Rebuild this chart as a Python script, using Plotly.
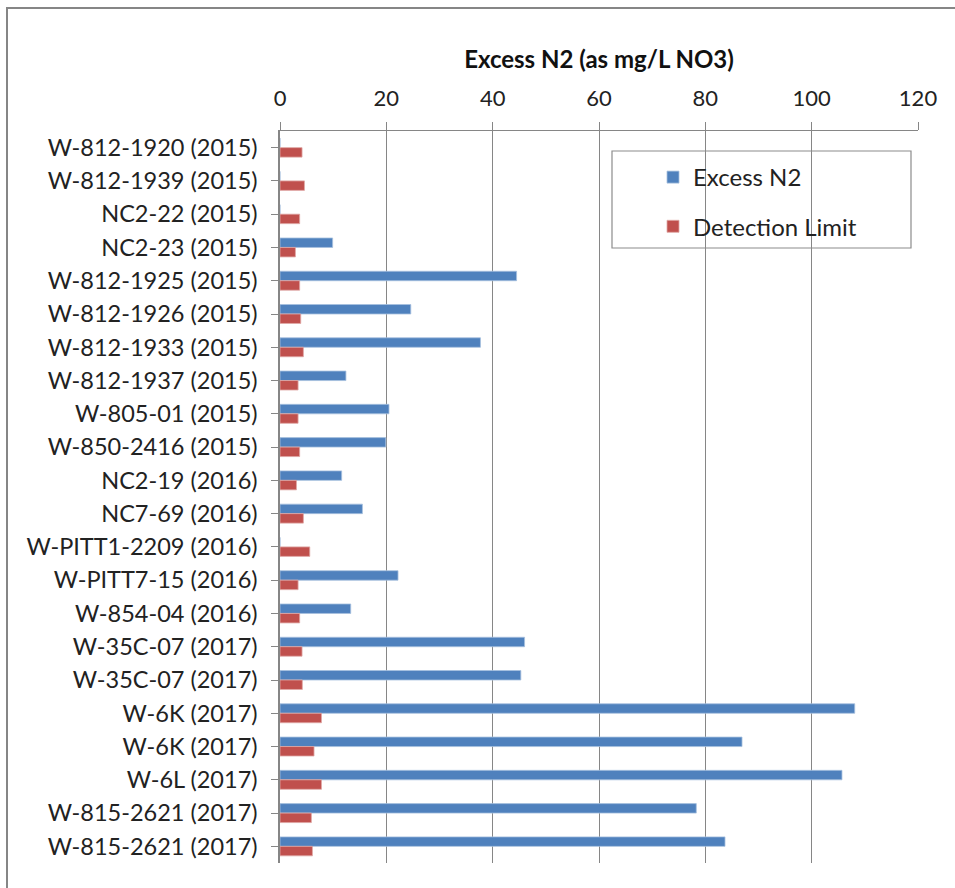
import plotly.graph_objects as go

# Wells (top to bottom) and measured values, mg/L as NO3
wells = [
    "W-812-1920 (2015)", "W-812-1939 (2015)", "NC2-22 (2015)", "NC2-23 (2015)",
    "W-812-1925 (2015)", "W-812-1926 (2015)", "W-812-1933 (2015)", "W-812-1937 (2015)",
    "W-805-01 (2015)", "W-850-2416 (2015)", "NC2-19 (2016)", "NC7-69 (2016)",
    "W-PITT1-2209 (2016)", "W-PITT7-15 (2016)", "W-854-04 (2016)", "W-35C-07 (2017)",
    "W-35C-07 (2017)", "W-6K (2017)", "W-6K (2017)", "W-6L (2017)",
    "W-815-2621 (2017)", "W-815-2621 (2017)",
]
excess_n2 = [0, 0, 0, 9.9, 44.5, 24.6, 37.7, 12.4, 20.5, 19.9, 11.6, 15.5,
             0, 22.2, 13.3, 46.0, 45.3, 108.1, 86.9, 105.7, 78.3, 83.7]
detection_limit = [4.15, 4.6, 3.7, 2.9, 3.7, 3.9, 4.4, 3.4, 3.4, 3.7, 3.1, 4.4,
                   5.6, 3.4, 3.7, 4.15, 4.2, 7.8, 6.4, 7.8, 5.9, 6.1]
x_ticks = [0, 20, 40, 60, 80, 100, 120]

# duplicate well names need unique category keys
row_ids = list(range(len(wells)))

FONT = "Lato, Calibri, sans-serif"
GRID = "#868686"
TEXT = "#222222"

fig = go.Figure()
fig.add_trace(go.Bar(
    y=row_ids, x=excess_n2, orientation="h", name="Excess N2",
    marker=dict(color="#4F81BD", line=dict(color="#A7C0DE", width=0.8)),
    legendgroup="a",
))
fig.add_trace(go.Bar(
    y=row_ids, x=detection_limit, orientation="h", name="Detection Limit",
    marker=dict(color="#C0504D", line=dict(color="#E0A8A6", width=0.8)),
    legendgroup="b",
))

fig.update_layout(
    width=955, height=888,
    margin=dict(l=280, r=37, t=131, b=25),
    paper_bgcolor="white", plot_bgcolor="white",
    barmode="group", bargap=0.43, bargroupgap=0,
    font=dict(family=FONT, size=23, color=TEXT),
    showlegend=True,
    legend=dict(
        x=(653 - 280) / 638, y=(863 - 155) / 732, xanchor="left", yanchor="top",
        bgcolor="rgba(0,0,0,0)", borderwidth=0, tracegroupgap=15,
        traceorder="grouped", font=dict(family=FONT, size=24, color=TEXT),
    ),
    xaxis=dict(
        side="top", range=[0, 120], tickvals=x_ticks, ticktext=[str(v) for v in x_ticks],
        showgrid=True, gridcolor=GRID, gridwidth=1,
        showline=True, linecolor=GRID, linewidth=1,
        ticks="outside", ticklen=8, tickcolor=GRID,
        tickfont=dict(family=FONT, size=22, color=TEXT),
        ticklabelstandoff=7,
        zeroline=False,
        title=dict(text="<b>Excess N2 (as mg/L NO3)</b>", standoff=8,
                   font=dict(family=FONT, size=24, color="#111111")),
    ),
    yaxis=dict(
        tickvals=row_ids, ticktext=wells, autorange="reversed",
        range=[-0.5, len(wells) - 0.5],
        showline=True, linecolor=GRID, linewidth=1.5,
        ticks="outside", ticklen=7, tickcolor=GRID, tickson="boundaries",
        showgrid=False, zeroline=False,
        tickfont=dict(family=FONT, size=23.5, color=TEXT),
        ticklabelstandoff=9,
    ),
    shapes=[
        # legend frame
        dict(type="rect", xref="paper", yref="paper",
             x0=(612 - 280) / 638, x1=(911 - 280) / 638,
             y0=(863 - 248) / 732, y1=(863 - 151) / 732,
             line=dict(color="#8C8C8C", width=1.2), fillcolor="rgba(0,0,0,0)"),
        # outer chart frame
        dict(type="rect", xref="paper", yref="paper",
             x0=(7 - 280) / 638, x1=1.2, y0=-0.2, y1=(863 - 8) / 732,
             line=dict(color="#868686", width=2), fillcolor="rgba(0,0,0,0)"),
    ],
)

fig.write_html("out.html")
